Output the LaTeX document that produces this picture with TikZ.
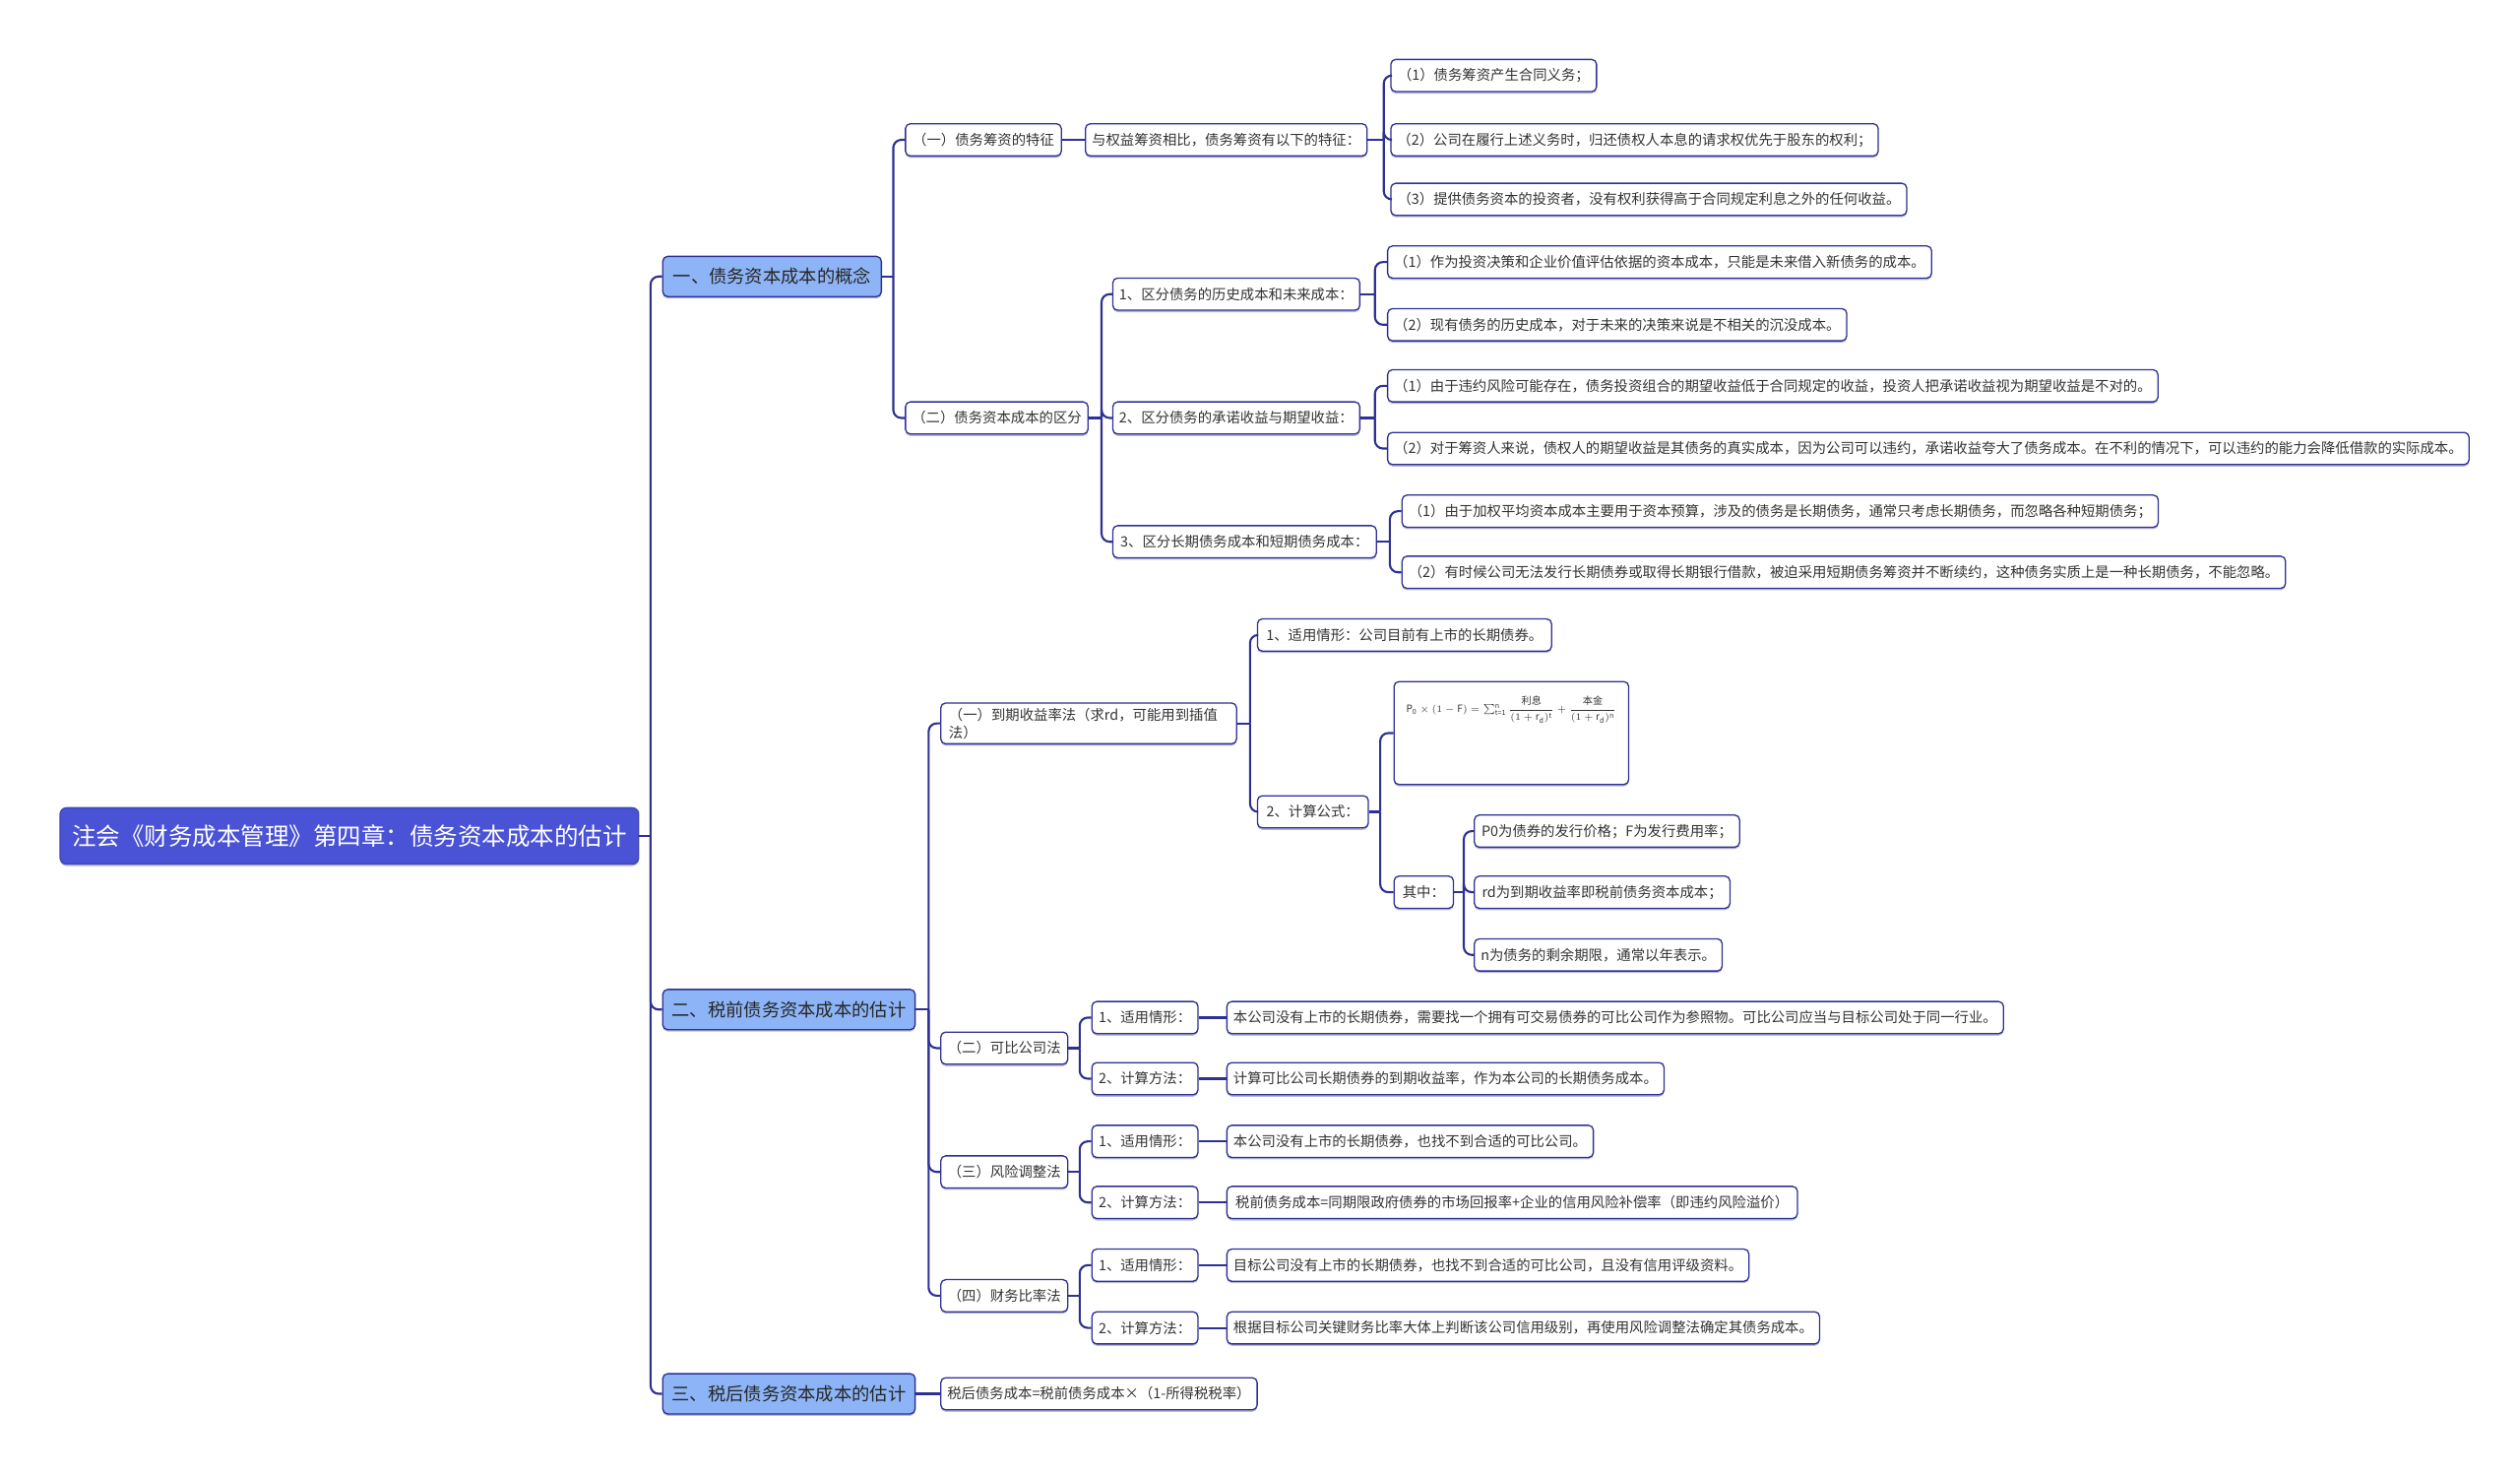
\documentclass[tikz,border=0pt]{standalone}
\usepackage{amsmath}
\usepackage{fontspec}
\setmainfont{Noto Sans CJK SC}
\usetikzlibrary{shadows}
\definecolor{navy}{HTML}{2E3192}
\definecolor{rootc}{HTML}{4A52D5}
\definecolor{lblue}{HTML}{8DB4F6}
\definecolor{txt}{HTML}{333333}
\begin{document}
\begin{tikzpicture}[x=1pt,y=1pt,
  nbox/.style={draw=navy, line width=0.8pt, rounded corners=3pt, fill=white, text=txt,
    font=\fontsize{8.8}{11}\selectfont, minimum height=20pt, inner xsep=4pt, inner ysep=2pt,
    anchor=west, drop shadow={shadow xshift=0pt, shadow yshift=-1.2pt, opacity=0.35, fill=navy}},
  lvlone/.style={nbox, fill=lblue, text=black!85, font=\fontsize{11.2}{13}\selectfont, minimum height=25pt},
  rootbox/.style={nbox, fill=rootc, draw=rootc!85!black, text=white, font=\fontsize{15}{18}\selectfont,
    minimum height=35pt, rounded corners=4pt},
  conn/.style={draw=navy, line width=1.3pt},
  elbow/.style={conn, rounded corners=5pt}]
\useasboundingbox (0,0) rectangle (1568,918);

% root and level one
\node[rootbox, minimum width=360pt, inner xsep=2pt] (root) at (37,398) {注会《财务成本管理》第四章：债务资本成本的估计};
\node[lvlone, minimum width=136pt] (L1a) at (412,746) {一、债务资本成本的概念};
\node[lvlone, minimum width=157pt] (L1b) at (412,290) {二、税前债务资本成本的估计};
\node[lvlone, minimum width=157pt] (L1c) at (412,51) {三、税后债务资本成本的估计};

% branch one
\node[nbox, minimum width=97pt] (A1) at (563,831) {（一）债务筹资的特征};
\node[nbox, minimum width=113pt] (A2) at (563,658) {（二）债务资本成本的区分};
\node[nbox, minimum width=172pt] (A1a) at (675,831) {与权益筹资相比，债务筹资有以下的特征：};
\node[nbox, minimum width=128pt] (A1a1) at (865,871) {（1）债务筹资产生合同义务；};
\node[nbox, minimum width=303pt] (A1a2) at (865,831) {（2）公司在履行上述义务时，归还债权人本息的请求权优先于股东的权利；};
\node[nbox, minimum width=321pt] (A1a3) at (865,794) {（3）提供债务资本的投资者，没有权利获得高于合同规定利息之外的任何收益。};
\node[nbox, minimum width=153pt] (B1) at (692,735) {1、区分债务的历史成本和未来成本：};
\node[nbox, minimum width=153pt] (B2) at (692,658) {2、区分债务的承诺收益与期望收益：};
\node[nbox, minimum width=164pt] (B3) at (692,581) {3、区分长期债务成本和短期债务成本：};
\node[nbox, minimum width=335pt] (B1a) at (863,755) {（1）作为投资决策和企业价值评估依据的资本成本，只能是未来借入新债务的成本。};
\node[nbox, minimum width=283pt] (B1b) at (863,716) {（2）现有债务的历史成本，对于未来的决策来说是不相关的沉没成本。};
\node[nbox, minimum width=475pt] (B2a) at (863,678) {（1）由于违约风险可能存在，债务投资组合的期望收益低于合同规定的收益，投资人把承诺收益视为期望收益是不对的。};
\node[nbox, minimum width=669pt] (B2b) at (863,639) {（2）对于筹资人来说，债权人的期望收益是其债务的真实成本，因为公司可以违约，承诺收益夸大了债务成本。在不利的情况下，可以违约的能力会降低借款的实际成本。};
\node[nbox, minimum width=466pt] (B3a) at (872,600) {（1）由于加权平均资本成本主要用于资本预算，涉及的债务是长期债务，通常只考虑长期债务，而忽略各种短期债务；};
\node[nbox, minimum width=546pt] (B3b) at (872,562) {（2）有时候公司无法发行长期债券或取得长期银行借款，被迫采用短期债务筹资并不断续约，这种债务实质上是一种长期债务，不能忽略。};

% branch two
\node[nbox, text width=174pt, align=left, inner xsep=5pt, inner ysep=3pt] (C1) at (585,468) {（一）到期收益率法（求rd，可能用到插值\\法）};
\node[nbox, minimum width=79pt] (C2) at (585,266) {（二）可比公司法};
\node[nbox, minimum width=79pt] (C3) at (585,189) {（三）风险调整法};
\node[nbox, minimum width=79pt] (C4) at (585,112) {（四）财务比率法};
\node[nbox, minimum width=183pt] (D1) at (782,523) {1、适用情形：公司目前有上市的长期债券。};
\node[nbox, minimum width=69pt] (D2) at (782,413) {2、计算公式：};
\node[nbox, minimum width=146pt, minimum height=64pt, inner ysep=0pt] (F) at (867,462)
  {\vbox to 62pt{\vskip 8pt\hbox{\fontsize{6.2}{7}\selectfont$\text{P}_{\text{0}}\times(1-\text{F})=\sum\nolimits_{\text{t=1}}^{\text{n}}\dfrac{\text{利息}}{(1+\text{r}_{\text{d}})^{\text{t}}}+\dfrac{\text{本金}}{(1+\text{r}_{\text{d}})^{\text{n}}}$}\vfil}};
\node[nbox, minimum width=37pt] (G) at (867,363) {其中：};
\node[nbox, minimum width=165pt] (H1) at (917,401) {P0为债券的发行价格；F为发行费用率；};
\node[nbox, minimum width=159pt] (H2) at (917,363) {rd为到期收益率即税前债务资本成本；};
\node[nbox, minimum width=154pt] (H3) at (917,324) {n为债务的剩余期限，通常以年表示。};

\node[nbox, minimum width=66pt] (E2a) at (679,285) {1、适用情形：};
\node[nbox, minimum width=66pt] (E2b) at (679,247) {2、计算方法：};
\node[nbox, minimum width=66pt] (E3a) at (679,208) {1、适用情形：};
\node[nbox, minimum width=66pt] (E3b) at (679,170) {2、计算方法：};
\node[nbox, minimum width=66pt] (E4a) at (679,131) {1、适用情形：};
\node[nbox, minimum width=66pt] (E4b) at (679,92) {2、计算方法：};
\node[nbox, minimum width=479pt] (X2a) at (763,285) {本公司没有上市的长期债券，需要找一个拥有可交易债券的可比公司作为参照物。可比公司应当与目标公司处于同一行业。};
\node[nbox, minimum width=269pt] (X2b) at (763,247) {计算可比公司长期债券的到期收益率，作为本公司的长期债务成本。};
\node[nbox, minimum width=227pt] (X3a) at (763,208) {本公司没有上市的长期债券，也找不到合适的可比公司。};
\node[nbox, minimum width=355pt] (X3b) at (763,170) {税前债务成本=同期限政府债券的市场回报率+企业的信用风险补偿率（即违约风险溢价）};
\node[nbox, minimum width=322pt] (X4a) at (763,131) {目标公司没有上市的长期债券，也找不到合适的可比公司，且没有信用评级资料。};
\node[nbox, minimum width=366pt] (X4b) at (763,92) {根据目标公司关键财务比率大体上判断该公司信用级别，再使用风险调整法确定其债务成本。};

% branch three
\node[nbox, minimum width=196pt] (T) at (585,51) {税后债务成本=税前债务成本×（1-所得税税率）};

% connectors
\draw[conn] (root.east) -- ++(7,0) coordinate (rb);
\foreach \c in {L1a,L1b,L1c} \draw[elbow] (rb) |- (\c.west);

\draw[conn] (L1a.east) -- ++(7,0) coordinate (ab);
\foreach \c in {A1,A2} \draw[elbow] (ab) |- (\c.west);
\draw[conn] (A1.east) -- (A1a.west);
\draw[conn] (A1a.east) -- ++(10,0) coordinate (a1b);
\foreach \c in {A1a1,A1a2,A1a3} \draw[elbow] (a1b) |- (\c.west);
\draw[conn] (A2.east) -- ++(8,0) coordinate (a2b);
\foreach \c in {B1,B2,B3} \draw[elbow] (a2b) |- (\c.west);
\draw[conn] (B1.east) -- ++(9,0) coordinate (b1b);
\foreach \c in {B1a,B1b} \draw[elbow] (b1b) |- (\c.west);
\draw[conn] (B2.east) -- ++(9,0) coordinate (b2b);
\foreach \c in {B2a,B2b} \draw[elbow] (b2b) |- (\c.west);
\draw[conn] (B3.east) -- ++(8,0) coordinate (b3b);
\foreach \c in {B3a,B3b} \draw[elbow] (b3b) |- (\c.west);

\draw[conn] (L1b.east) -- ++(8,0) coordinate (cb);
\foreach \c in {C1,C2,C3,C4} \draw[elbow] (cb) |- (\c.west);
\draw[conn] (C1.east) -- ++(8,0) coordinate (c1b);
\foreach \c in {D1,D2} \draw[elbow] (c1b) |- (\c.west);
\draw[conn] (D2.east) -- ++(7,0) coordinate (d2b);
\foreach \c in {F,G} \draw[elbow] (d2b) |- (\c.west);
\draw[conn] (G.east) -- ++(6,0) coordinate (gb);
\foreach \c in {H1,H2,H3} \draw[elbow] (gb) |- (\c.west);
\draw[conn] (C2.east) -- ++(7,0) coordinate (c2b);
\foreach \c in {E2a,E2b} \draw[elbow] (c2b) |- (\c.west);
\draw[conn] (C3.east) -- ++(7,0) coordinate (c3b);
\foreach \c in {E3a,E3b} \draw[elbow] (c3b) |- (\c.west);
\draw[conn] (C4.east) -- ++(7,0) coordinate (c4b);
\foreach \c in {E4a,E4b} \draw[elbow] (c4b) |- (\c.west);
\draw[conn] (E2a.east) -- (X2a.west);
\draw[conn] (E2b.east) -- (X2b.west);
\draw[conn] (E3a.east) -- (X3a.west);
\draw[conn] (E3b.east) -- (X3b.west);
\draw[conn] (E4a.east) -- (X4a.west);
\draw[conn] (E4b.east) -- (X4b.west);

\draw[conn] (L1c.east) -- (T.west);
\end{tikzpicture}
\end{document}
